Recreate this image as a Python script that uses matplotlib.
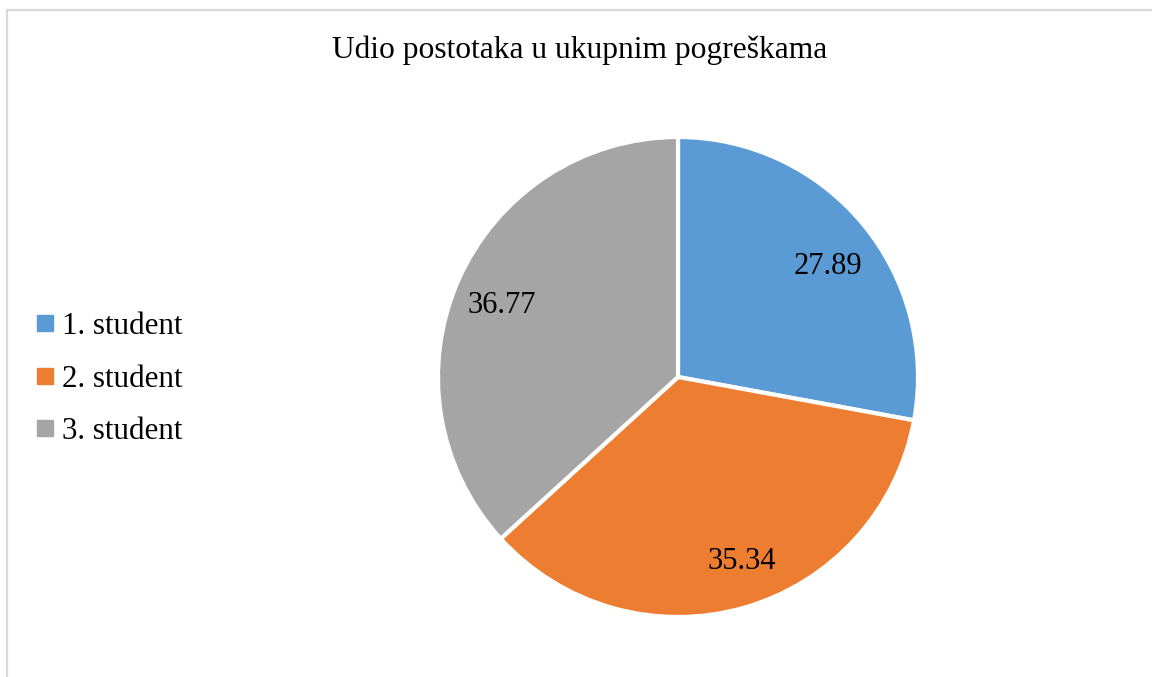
import matplotlib
matplotlib.use("Agg")
import numpy as np
import matplotlib.pyplot as plt
from matplotlib.lines import Line2D
from matplotlib.patches import Rectangle

title = "Udio postotaka u ukupnim pogreškama"
categories = ["1. student", "2. student", "3. student"]
values = [27.89, 35.34, 36.77]
value_labels = ["27.89", "35.34", "36.77"]
colors = ["#5B9BD5", "#ED7D31", "#A5A5A5"]

# label placement tweaks (angle offset in degrees, radial distance)
label_angle_offsets = [-3.5, 3.1, 1.6]
label_distances = [0.782, 0.82, 0.80]

plt.rcParams['font.family'] = ['Liberation Serif', 'DejaVu Serif']

W, H = 1152, 677
fig = plt.figure(figsize=(W / 100, H / 100), dpi=100)
fig.patch.set_facecolor("white")

cx, cy, r = 678, 377, 240
ax = fig.add_axes([(cx - r) / W, (H - cy - r) / H, 2 * r / W, 2 * r / H])
wedges, _ = ax.pie(values, colors=colors, startangle=90, counterclock=False,
                   wedgeprops=dict(edgecolor="white", linewidth=3.0))
ax.set_xlim(-1, 1)
ax.set_ylim(-1, 1)
ax.set_aspect("equal")
ax.axis("off")

for w, lab, off, d in zip(wedges, value_labels, label_angle_offsets, label_distances):
    ang = np.deg2rad((w.theta1 + w.theta2) / 2 + off)
    ax.text(d * 238 / r * np.cos(ang), d * 238 / r * np.sin(ang), lab,
            ha="center", va="center", fontsize=22, color="black")

fig.text(580 / W, 1 - 50 / H, title, ha="center", va="center", fontsize=22.7)

handles = [Line2D([0], [0], marker="s", linestyle="none", markersize=11,
                  markerfacecolor=c, markeredgecolor=c) for c in colors]
fig.legend(handles, categories, loc="center left", bbox_to_anchor=(21.3 / W, 1 - 379 / H),
           frameon=False, fontsize=22.3, handlelength=0.55, handletextpad=0.28,
           labelspacing=0.75, borderpad=0)

fig.add_artist(Rectangle((7 / W, -0.1), 1.5, (H - 9.5) / H + 0.1, fill=False,
                         edgecolor="#d9d9d9", linewidth=1.6, transform=fig.transFigure))

fig.savefig("out.png", dpi=100, facecolor="white")
